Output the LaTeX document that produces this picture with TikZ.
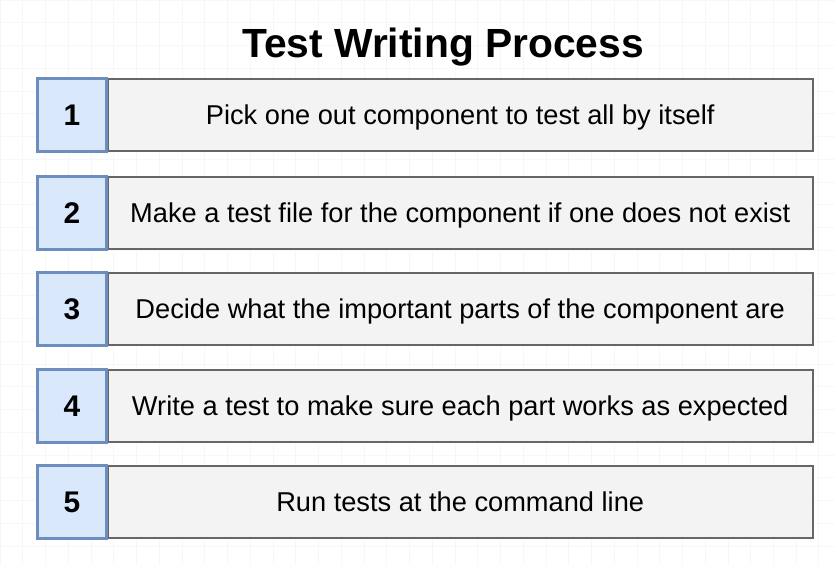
\documentclass[tikz,border=0pt]{standalone}
\usepackage{fontspec}
\setmainfont{Liberation Sans}
\usetikzlibrary{positioning}
\definecolor{twNumFill}{HTML}{DAE8FC}
\definecolor{twNumLine}{HTML}{6C8EBF}
\definecolor{twBoxFill}{HTML}{F3F3F3}
\definecolor{twBoxLine}{HTML}{666666}
\definecolor{twGrid}{HTML}{F7F7F7}

\begin{document}
\begin{tikzpicture}[x=0.02cm, y=-0.02cm,
      num/.style={draw=twNumLine, fill=twNumFill, line width=0.9pt,
                  minimum width=1.36cm, minimum height=1.45cm,
                  inner sep=0pt, text depth=0pt,
                  font=\fontsize{17}{20}\selectfont\bfseries},
      task/.style={draw=twBoxLine, fill=twBoxFill, line width=1.1pt,
                   minimum width=14.1cm, minimum height=1.45cm,
                   inner sep=0pt, text depth=0pt,
                   font=\fontsize{15.5}{18}\selectfont},
      node distance=0pt]
    \useasboundingbox (0,0) rectangle (835,565);
    \fill[white] (0,0) rectangle (835,565);
    \draw[twGrid, step=0.455cm] (0,0) grid (835,565);
    \node[font=\fontsize{23.2}{28}\selectfont\bfseries, text depth=0pt]
      (title) at (443,43) {Test Writing Process};
    \node[num] (n1) at (72,115) {1};
    \node[task, right=of n1] (t1) {Pick one out component to test all by itself};
    \node[num] (n2) at (72,213) {2};
    \node[task, right=of n2] (t2) {Make a test file for the component if one does not exist};
    \node[num] (n3) at (72,309) {3};
    \node[task, right=of n3] (t3) {Decide what the important parts of the component are};
    \node[num] (n4) at (72,406) {4};
    \node[task, right=of n4] (t4) {Write a test to make sure each part works as expected};
    \node[num] (n5) at (72,502) {5};
    \node[task, right=of n5] (t5) {Run tests at the command line};
    % redraw number boxes on top of the shared edge
    \foreach \n in {n1,n2,n3,n4,n5}
      \draw[twNumLine, line width=0.9pt] (\n.north west) rectangle (\n.south east);
  \end{tikzpicture}
\end{document}
